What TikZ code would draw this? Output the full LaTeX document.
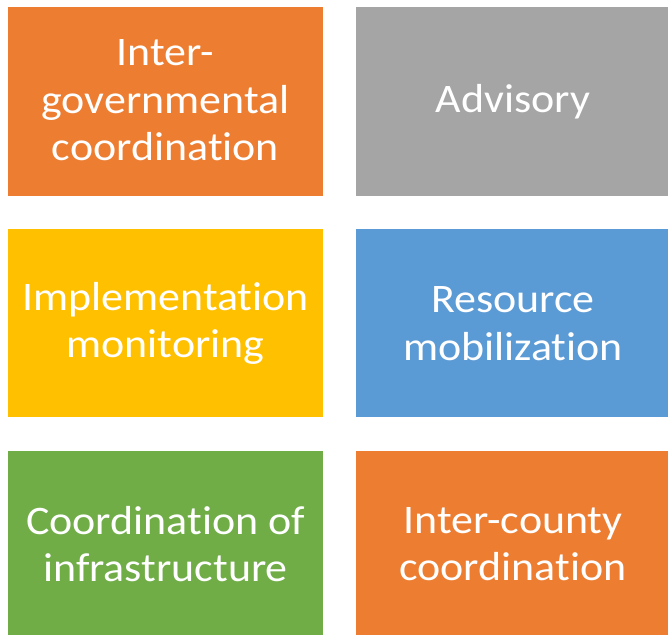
\documentclass[tikz,border=0pt]{standalone}
\usepackage{fontspec}
\setmainfont{Carlito}[FakeStretch=1.085,Ligatures=NoCommon]
\definecolor{cOrange}{HTML}{ED7D31}
\definecolor{cGray}{HTML}{A5A5A5}
\definecolor{cYellow}{HTML}{FFC000}
\definecolor{cBlue}{HTML}{5B9BD5}
\definecolor{cGreen}{HTML}{70AD47}
\begin{document}
\begin{tikzpicture}[x=1pt,y=-1pt,
  tile/.style={draw=none,fill=#1},
  lbl/.style={text=white,align=center,font=\fontsize{40.5}{47.5}\selectfont,inner sep=0pt}]
\useasboundingbox (0,0) rectangle (668,635);
\fill[tile=cOrange] (8,7) rectangle (323,196);
\fill[tile=cGray] (356,7) rectangle (668,196);
\fill[tile=cYellow] (8,229) rectangle (323,417);
\fill[tile=cBlue] (356,229) rectangle (668,417);
\fill[tile=cGreen] (8,451) rectangle (323,635);
\fill[tile=cOrange] (356,451) rectangle (668,635);
\node[lbl] (t1) at (165.5,100.5) {Inter-\\governmental\\coordination};
\node[lbl] (t2) at (513,102) {Advisory};
\node[lbl] (t3) at (165.5,323.5) {Implementation\\monitoring};
\node[lbl] (t4) at (513,323.5) {Resource\\mobilization};
\node[lbl] (t5) at (165.5,544) {Coordination of\\infrastructure};
\node[lbl] (t6) at (513,544) {Inter-county\\coordination};
\end{tikzpicture}
\end{document}
